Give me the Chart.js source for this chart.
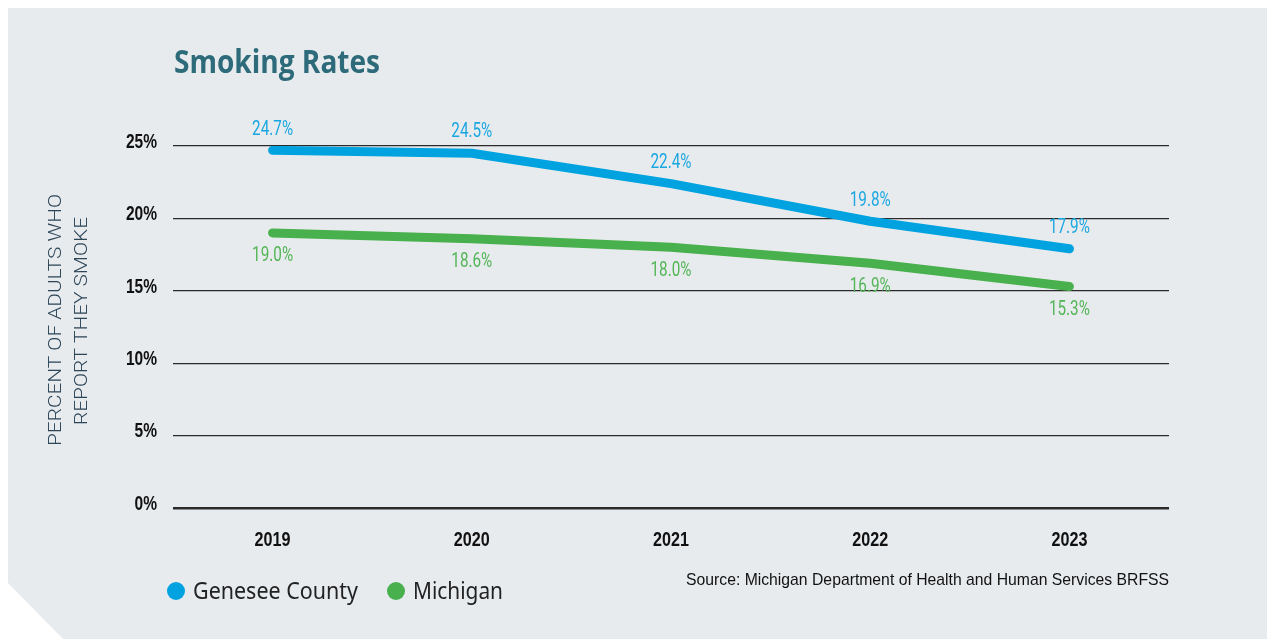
<!DOCTYPE html>
<html>
<head>
<meta charset="utf-8">
<title>Smoking Rates</title>
<script src="https://cdn.jsdelivr.net/npm/chart.js@4.4.1/dist/chart.umd.min.js"></script>
<style>
    html, body { margin: 0; padding: 0; background: #fff; }
    #panel {
        position: absolute; left: 8px; top: 8px; width: 1259px; height: 631px;
        background: #e8ebee;
        clip-path: polygon(0 0, 100% 0, 100% 100%, 55px 100%, 0 575px);
    }
    #chartBox { position: absolute; left: 0; top: 0; width: 1267px; height: 639px; }
</style>
</head>
<body>
<div id="panel"></div>
<div id="chartBox"><canvas id="smokingChart" width="1267" height="639"></canvas></div>
<script>
const years = ['2019', '2020', '2021', '2022', '2023'];
const genesee = [24.7, 24.5, 22.4, 19.8, 17.9];
const michigan = [19.0, 18.6, 18.0, 16.9, 15.3];
const yTicks = [0, 5, 10, 15, 20, 25];

const BLUE = '#00a3e0';
const GREEN = '#48b04c';
const TICK_FONT = "700 21px 'Liberation Sans', Arial, sans-serif";

// draws text squeezed/stretched to a given width
function fitText(ctx, text, x, y, width, font, color) {
    ctx.save();
    ctx.font = font;
    ctx.fillStyle = color;
    ctx.textAlign = 'left';
    ctx.textBaseline = 'alphabetic';
    const w = ctx.measureText(text).width;
    ctx.translate(x, y);
    ctx.scale(width / w, 1);
    ctx.fillText(text, 0, 0);
    ctx.restore();
}

function squeezedText(ctx, text, x, y, sx, align) {
    ctx.save();
    ctx.translate(x, y);
    ctx.scale(sx, 1);
    ctx.textAlign = align;
    ctx.textBaseline = 'middle';
    ctx.fillText(text, 0, 0);
    ctx.restore();
}

const valueLabels = {
    id: 'valueLabels',
    afterDatasetsDraw(chart) {
        const ctx = chart.ctx;
        ctx.save();
        ctx.font = "400 21px Roboto, 'Liberation Sans', sans-serif";
        const sx = 41 / ctx.measureText('24.7%').width;
        chart.data.datasets.forEach((ds, i) => {
            const meta = chart.getDatasetMeta(i);
            meta.data.forEach((pt, j) => {
                const txt = ds.data[j].toFixed(1) + '%';
                const dy = i === 0 ? -21 : 23;
                ctx.fillStyle = i === 0 ? '#1aa7e0' : '#52b556';
                squeezedText(ctx, txt, pt.x, pt.y + dy, sx, 'center');
            });
        });
        ctx.restore();
    }
};

const tickLabels = {
    id: 'tickLabels',
    afterDraw(chart) {
        const ctx = chart.ctx;
        const xs = chart.scales.x;
        const ys = chart.scales.y;
        ctx.save();
        ctx.font = TICK_FONT;
        ctx.fillStyle = '#111';
        ys.ticks.forEach(t => {
            squeezedText(ctx, t.value + '%', ys.right - 16, ys.getPixelForValue(t.value) - 4, 0.74, 'right');
        });
        years.forEach((yr, i) => {
            squeezedText(ctx, yr, xs.getPixelForTick(i), xs.top + 32, 0.77, 'center');
        });
        ctx.restore();
    }
};

const decorations = {
    id: 'decorations',
    afterDraw(chart) {
        const ctx = chart.ctx;
        // title
        fitText(ctx, 'Smoking Rates', 174, 73, 206, "700 33px 'Open Sans', sans-serif", '#2d6b7a');

        // y axis title, two rotated lines
        ctx.save();
        ctx.rotate(-Math.PI / 2);
        const f = "300 18px Roboto, 'Liberation Sans', sans-serif";
        fitText(ctx, 'PERCENT OF ADULTS WHO', -320 - 126, 61, 252, f, '#2c4557');
        fitText(ctx, 'REPORT THEY SMOKE', -321 - 104, 87, 208, f, '#2c4557');
        ctx.restore();

        // legend
        const items = [
            { label: 'Genesee County', color: BLUE, cx: 176, w: 165 },
            { label: 'Michigan', color: GREEN, cx: 396, w: 90 }
        ];
        items.forEach(it => {
            ctx.beginPath();
            ctx.arc(it.cx, 591, 9, 0, Math.PI * 2);
            ctx.fillStyle = it.color;
            ctx.fill();
            fitText(ctx, it.label, it.cx + 17, 599, it.w, "400 24px 'Noto Sans', sans-serif", '#222');
        });

        // source
        fitText(ctx, 'Source: Michigan Department of Health and Human Services BRFSS',
            686, 585, 483, "400 17px 'Liberation Sans', sans-serif", '#111');
    }
};

const ctx = document.getElementById('smokingChart').getContext('2d');
window.smokingChart = new Chart(ctx, {
    type: 'line',
    data: {
        labels: years,
        datasets: [{
            label: 'Genesee County',
            data: genesee,
            borderColor: BLUE,
            borderWidth: 9,
            borderCapStyle: 'round',
            borderJoinStyle: 'round',
            pointRadius: 0,
            fill: false
        }, {
            label: 'Michigan',
            data: michigan,
            borderColor: GREEN,
            borderWidth: 9,
            borderCapStyle: 'round',
            borderJoinStyle: 'round',
            pointRadius: 0,
            fill: false
        }]
    },
    options: {
        responsive: false,
        animation: false,
        layout: { padding: { top: 146, right: 98, bottom: 81, left: 0 } },
        plugins: {
            legend: { display: false },
            title: { display: false },
            tooltip: { enabled: false }
        },
        scales: {
            x: {
                offset: true,
                grid: { display: false, drawTicks: false },
                border: { display: false },
                ticks: { display: false },
                afterFit: (scale) => { scale.height = 50; }
            },
            y: {
                min: yTicks[0],
                max: yTicks[yTicks.length - 1],
                afterBuildTicks: (scale) => { scale.ticks = yTicks.map(v => ({ value: v })); },
                grid: {
                    drawTicks: false,
                    color: '#2a2a2a',
                    lineWidth: (c) => c.tick && c.tick.value === 0 ? 2.5 : 1.2
                },
                border: { display: false },
                ticks: { display: false },
                afterFit: (scale) => { scale.width = 173; }
            }
        }
    },
    plugins: [valueLabels, tickLabels, decorations]
});
</script>
</body>
</html>
